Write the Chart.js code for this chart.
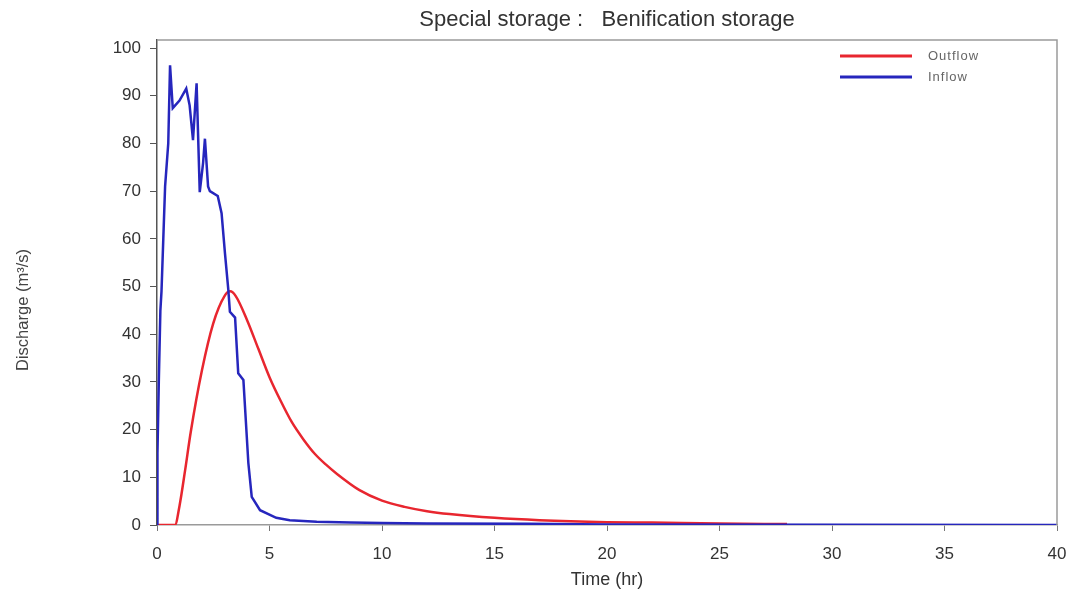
<!DOCTYPE html>
<html>
<head>
<meta charset="utf-8">
<script src="https://cdn.jsdelivr.net/npm/chart.js@4"></script>
<style>
  html, body { margin: 0; padding: 0; background: #fff; }
  #wrap { width: 1068px; height: 592px; }
</style>
</head>
<body>
<div id="wrap"><canvas id="storageChart" width="1068" height="592"></canvas></div>
<script>
// hydrograph (time in hr, discharge in m3/s)
const inflowTime = [0, 0.02, 0.08, 0.15, 0.2, 0.28, 0.36, 0.5, 0.58, 0.7, 1.0, 1.3, 1.45, 1.6, 1.76, 1.9, 2.05, 2.13, 2.27, 2.35, 2.7,
  2.87, 3.02, 3.17, 3.24, 3.47, 3.61, 3.84, 4.06, 4.21, 4.58, 5.3, 5.9, 7.1, 8.6, 10, 12, 16.5, 20, 30, 40];
const inflowQ = [0, 15, 30, 45, 49, 60, 71, 80, 96.4, 87.4, 89, 91.5, 88, 80.7, 92.6, 69.8, 76, 81, 71, 70, 69,
  65.4, 57, 49.3, 44.7, 43.5, 31.8, 30.4, 13, 5.9, 3.1, 1.5, 1.0, 0.7, 0.5, 0.4, 0.3, 0.25, 0.1, 0.05, 0];

const outflowTime = [0, 0.8, 1.0, 1.25, 1.5, 2.0, 2.5, 3.0, 3.25, 3.5, 4.0, 4.5, 5.0, 5.5, 6.0, 6.5, 7, 7.5, 8, 9, 10, 11, 12, 13, 15, 17, 20, 22, 25, 28];
const outflowQ = [0, 0, 4, 11.5, 19.5, 32.5, 42.3, 48, 49, 48, 43, 37, 31, 26, 21.5, 18, 15, 12.7, 10.7, 7.3, 5.1, 3.8, 2.9, 2.3, 1.5, 1, 0.6, 0.5, 0.3, 0.2];

const xTicks = [0, 5, 10, 15, 20, 25, 30, 35, 40];
const yTicks = [0, 10, 20, 30, 40, 50, 60, 70, 80, 90, 100];

const seriesNames = ['Outflow', 'Inflow'];
const seriesColors = ['#e8262f', '#2626bd'];

const toPoints = (xs, ys) => xs.map((x, i) => ({ x: x, y: ys[i] }));

const fontFamily = '"Liberation Sans", Arial, sans-serif';

// frame lines on top and right, legend inside the plot, rotated y title
const framePlugin = {
    id: 'frame',
    afterDraw(chart) {
        const ctx = chart.ctx;
        const a = chart.chartArea;
        ctx.save();
        ctx.strokeStyle = '#9a9a9a';
        ctx.lineWidth = 1.5;
        ctx.beginPath();
        ctx.moveTo(a.left, a.top);
        ctx.lineTo(a.right, a.top);
        ctx.lineTo(a.right, a.bottom);
        ctx.stroke();

        // legend
        ctx.font = '13px ' + fontFamily;
        ctx.letterSpacing = '1px';
        ctx.textBaseline = 'middle';
        seriesNames.forEach((name, i) => {
            const y = 56 + i * 21;
            ctx.strokeStyle = seriesColors[i];
            ctx.lineWidth = 3;
            ctx.beginPath();
            ctx.moveTo(840, y);
            ctx.lineTo(912, y);
            ctx.stroke();
            ctx.fillStyle = '#666';
            ctx.fillText(name, 928, y);
        });
        ctx.letterSpacing = '0px';

        // y axis title
        ctx.translate(23, 310);
        ctx.rotate(-Math.PI / 2);
        ctx.font = '16.5px ' + fontFamily;
        ctx.fillStyle = '#444';
        ctx.textAlign = 'center';
        ctx.fillText('Discharge (m³/s)', 0, 0);
        ctx.restore();
    }
};

const ctx = document.getElementById('storageChart').getContext('2d');
new Chart(ctx, {
    type: 'line',
    data: {
        datasets: [{
            label: seriesNames[0],
            data: toPoints(outflowTime, outflowQ),
            borderColor: seriesColors[0],
            borderWidth: 2.5,
            pointRadius: 0,
            cubicInterpolationMode: 'monotone',
            order: 1
        }, {
            label: seriesNames[1],
            data: toPoints(inflowTime, inflowQ),
            borderColor: seriesColors[1],
            borderWidth: 2.5,
            pointRadius: 0,
            tension: 0,
            order: 0
        }]
    },
    options: {
        responsive: false,
        animation: false,
        layout: {
            padding: { left: 0, right: 11, top: 0, bottom: 0 }
        },
        plugins: {
            legend: { display: false },
            tooltip: { enabled: false },
            title: {
                display: true,
                text: 'Special storage :   Benification storage',
                fullSize: false,
                color: '#333',
                font: { family: fontFamily, size: 22, weight: 'normal' },
                padding: { top: 7, bottom: 6.6 }
            }
        },
        scales: {
            x: {
                type: 'linear',
                min: 0,
                max: 40,
                afterBuildTicks: (scale) => { scale.ticks = xTicks.map(v => ({ value: v })); },
                afterFit: (scale) => {
                    scale.height = 67;
                    scale.paddingLeft = 0;
                    scale.paddingRight = 0;
                },
                ticks: {
                    color: '#333',
                    padding: 13,
                    maxRotation: 0,
                    font: { family: fontFamily, size: 17 }
                },
                grid: {
                    drawOnChartArea: false,
                    drawTicks: true,
                    tickLength: 6,
                    color: '#777'
                },
                border: { color: '#9a9a9a', width: 1.5 },
                title: {
                    display: true,
                    text: 'Time (hr)',
                    color: '#333',
                    padding: { top: 0, bottom: 1 },
                    font: { family: fontFamily, size: 18 }
                }
            },
            y: {
                min: 0,
                max: 101.7,
                afterBuildTicks: (scale) => { scale.ticks = yTicks.map(v => ({ value: v })); },
                afterFit: (scale) => {
                    scale.width = 157;
                    scale.paddingTop = 0;
                    scale.paddingBottom = 0;
                },
                ticks: {
                    color: '#333',
                    padding: 9,
                    font: { family: fontFamily, size: 17 }
                },
                grid: {
                    drawOnChartArea: false,
                    drawTicks: true,
                    tickLength: 7,
                    color: '#555'
                },
                border: { color: '#555', width: 1.5 }
            }
        }
    },
    plugins: [framePlugin]
});
</script>
</body>
</html>
